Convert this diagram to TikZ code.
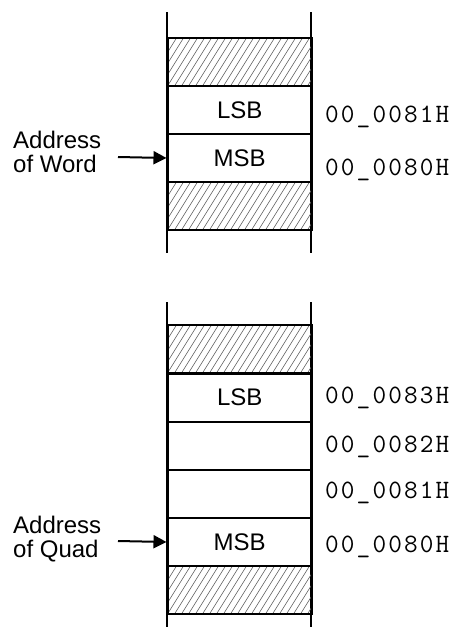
\documentclass[tikz,border=0pt]{standalone}
\usepackage{fontspec}
\setmainfont{Liberation Sans}
\newfontfamily\monof[LetterSpace=8]{Latin Modern Mono}
\usetikzlibrary{arrows.meta}
\begin{document}
\begin{tikzpicture}[x=1pt,y=-1pt,
  rail/.style={line width=2pt},
  cell/.style={draw,line width=2pt,minimum width=144.5pt,minimum height=48pt,inner sep=0pt,anchor=north west,font=\fontsize{24}{24}\selectfont},
  hatched/.style={cell,path picture={
     \foreach \i in {0,...,34}
       \draw[black!60,line width=0.6pt]
         ([xshift=\i*7pt-70pt]path picture bounding box.south west) -- ++(58:120pt);}},
  addr/.style={anchor=base west,inner sep=0pt,font=\monof\fontsize{26.5}{26.5}\selectfont},
  lbl/.style={align=left,inner sep=0pt,font=\fontsize{24}{24}\selectfont},
  ptr/.style={line width=2pt,-{Triangle[length=13pt,width=13pt]}}]
\useasboundingbox (0,0) rectangle (455,633);
% ---- word ----
\coordinate (wtop1) at (166.5,12); \coordinate (wbot1) at (166.5,253);
\coordinate (wtop2) at (311,12);   \coordinate (wbot2) at (311,253);
\draw[rail] (wtop1) -- (wbot1);
\draw[rail] (wtop2) -- (wbot2);
\node[hatched] (wh1) at (166.5,37) {};
\node[cell] (wlsb) at (166.5,85) {LSB};
\node[cell] (wmsb) at (166.5,133) {MSB};
\node[hatched] (wh2) at (166.5,181) {};
\node[addr] (wa1) at (325,122) {00\_0081H};
\node[addr] (wa0) at (325,175) {00\_0080H};
\node[lbl,anchor=base west] (wl) at (13,172) {Address\\of Word};
\coordinate (wst) at (118,157);
\draw[ptr] (wst) -- (wmsb.west);
% ---- quad ----
\coordinate (qtop1) at (166.5,302); \coordinate (qbot1) at (166.5,627);
\coordinate (qtop2) at (311,302);   \coordinate (qbot2) at (311,627);
\draw[rail] (qtop1) -- (qbot1);
\draw[rail] (qtop2) -- (qbot2);
\node[hatched] (qh1) at (166.5,324) {};
\node[cell] (qlsb) at (166.5,372.5) {LSB};
\node[cell] (qb2) at (166.5,421) {};
\node[cell] (qb1) at (166.5,469) {};
\node[cell] (qmsb) at (166.5,517) {MSB};
\node[hatched] (qh2) at (166.5,565) {};
\node[addr] (qa3) at (325,403) {00\_0083H};
\node[addr] (qa2) at (325,452) {00\_0082H};
\node[addr] (qa1) at (325,498) {00\_0081H};
\node[addr] (qa0) at (325,552) {00\_0080H};
\node[lbl,anchor=base west] (ql) at (13,557) {Address\\of Quad};
\coordinate (qst) at (118,541);
\draw[ptr] (qst) -- (qmsb.west);
\end{tikzpicture}
\end{document}
